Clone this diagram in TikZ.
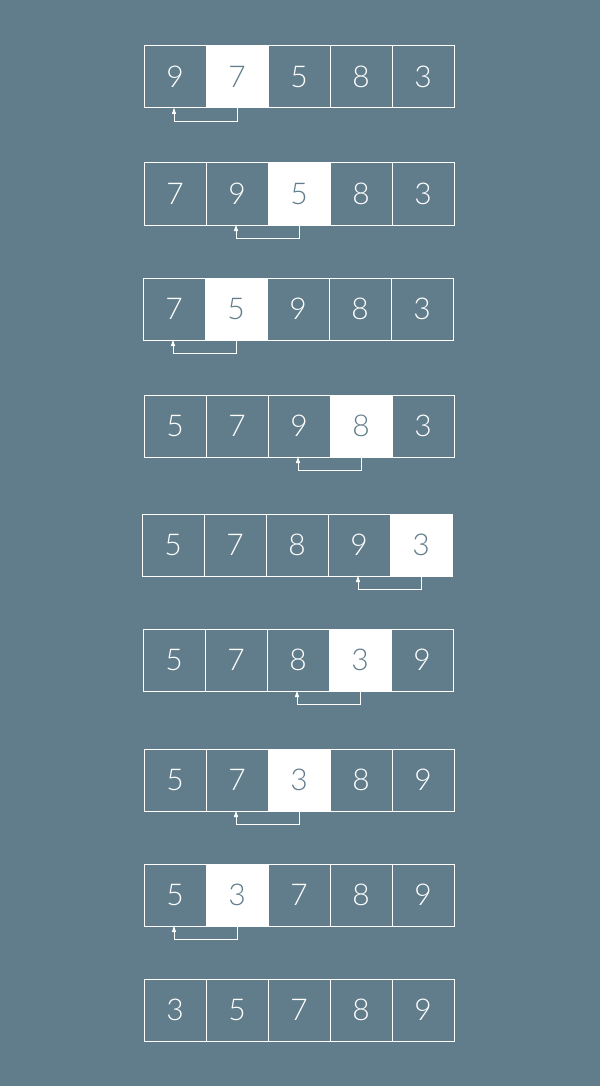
\documentclass[tikz,border=0pt]{standalone}
\usepackage{fontspec}
\setmainfont{Lato Light}
\usetikzlibrary{arrows.meta,positioning}
\definecolor{slate}{HTML}{617D8B}

\begin{document}
\begin{tikzpicture}[x=1pt,y=-1pt,
    cell/.style={draw=white, line width=1pt, minimum size=62pt, inner sep=0pt,
      text=white, font=\fontsize{30}{30}\selectfont},
    pick/.style={cell, fill=white, text=slate},
    swap/.style={draw=white, line width=0.8pt, -{Latex[length=7pt,width=4.5pt]}}]
    \fill[slate] (0,0) rectangle (600,1086);
    \useasboundingbox (0,0) rectangle (600,1086);
    % row: top, left, values, highlighted cell
    \foreach \r/\top/\left/\vals/\hl in {
        1/46/144/{9,7,5,8,3}/2,
        2/163/144/{7,9,5,8,3}/3,
        3/278/143/{7,5,9,8,3}/2,
        4/395/144/{5,7,9,8,3}/4,
        5/514/142/{5,7,8,9,3}/5,
        6/629/143/{5,7,8,3,9}/4,
        7/749/144/{5,7,3,8,9}/3,
        8/864/144/{5,3,7,8,9}/2,
        9/979/144/{3,5,7,8,9}/0} {
      \foreach \v [count=\c] in \vals {
        \ifnum\c=\hl
          \node (r\r c\c) [pick] at ({\left+31+62*(\c-1)}, {\top+31}) {\v};
        \else
          \node (r\r c\c) [cell] at ({\left+31+62*(\c-1)}, {\top+31}) {\v};
        \fi
      }
      \ifnum\hl>0
        \pgfmathtruncatemacro{\prev}{\hl-1}
        \draw [swap] (r\r c\hl.south) -- ++(0,13) -| ([xshift=-1pt,yshift=1.5pt]r\r c\prev.south);
      \fi
    }
\end{tikzpicture}
\end{document}
